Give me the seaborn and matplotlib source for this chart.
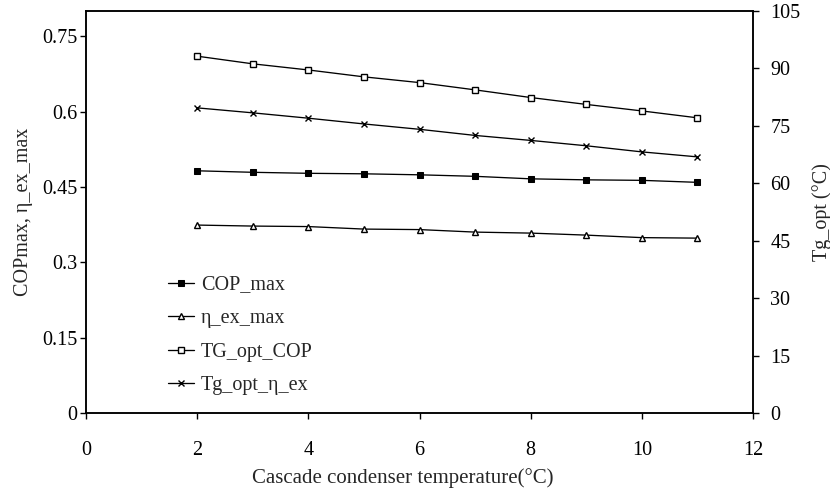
import matplotlib
matplotlib.use("Agg")
import matplotlib.pyplot as plt
import seaborn as sns
import pandas as pd

# Cascade condenser temperature (°C)
t_cascade = [2, 3, 4, 5, 6, 7, 8, 9, 10, 11]

# Left axis series
cop_max = [0.482, 0.479, 0.477, 0.476, 0.474, 0.471, 0.466, 0.464, 0.463, 0.459]
eta_ex_max = [0.374, 0.372, 0.371, 0.366, 0.365, 0.360, 0.358, 0.354, 0.349, 0.348]

# Right axis series (°C)
tg_opt_cop = [93.2, 91.2, 89.6, 87.8, 86.3, 84.4, 82.4, 80.6, 78.9, 77.1]
tg_opt_eta = [79.7, 78.4, 77.0, 75.5, 74.1, 72.5, 71.2, 69.8, 68.2, 66.9]

left_ticks = [0, 0.15, 0.3, 0.45, 0.6, 0.75]
left_tick_labels = ["0", "0.15", "0.3", "0.45", "0.6", "0.75"]
right_ticks = [0, 15, 30, 45, 60, 75, 90, 105]
x_ticks = [0, 2, 4, 6, 8, 10, 12]

sns.set_theme(style="white")
plt.rcParams["font.family"] = ["Liberation Serif", "DejaVu Serif"]
plt.rcParams["axes.edgecolor"] = "black"

FS = 14.5

df = pd.DataFrame({
    "T": t_cascade,
    "COP_max": cop_max,
    "eta_ex_max": eta_ex_max,
    "TG_opt_COP": tg_opt_cop,
    "Tg_opt_eta_ex": tg_opt_eta,
})

fig = plt.figure(figsize=(8.3, 4.9), dpi=100)
ax = fig.add_axes([86 / 830, 1 - 413 / 490, 667 / 830, 402 / 490])
ax2 = ax.twinx()

lw = 0.95
sns.lineplot(data=df, x="T", y="COP_max", ax=ax, color="black", linewidth=lw,
             marker="s", markersize=5, markerfacecolor="black",
             markeredgecolor="black", label="COP_max", legend=False)
sns.lineplot(data=df, x="T", y="eta_ex_max", ax=ax, color="black", linewidth=lw,
             marker="^", markersize=5, markerfacecolor="white",
             markeredgecolor="black", markeredgewidth=1.0,
             label="η_ex_max", legend=False)
sns.lineplot(data=df, x="T", y="TG_opt_COP", ax=ax2, color="black", linewidth=lw,
             marker="s", markersize=4, markerfacecolor="white",
             markeredgecolor="black", markeredgewidth=1.0,
             label="TG_opt_COP", legend=False)
sns.lineplot(data=df, x="T", y="Tg_opt_eta_ex", ax=ax2, color="black", linewidth=lw,
             marker="x", markersize=4.5, markeredgecolor="black",
             markeredgewidth=1.0, label="Tg_opt_η_ex", legend=False)

ax.set_xlim(0, 12)
ax.set_ylim(0, 0.8)
ax2.set_ylim(0, 105)
ax.set_xticks(x_ticks)
ax.set_yticks(left_ticks)
ax.set_yticklabels(left_tick_labels)
ax2.set_yticks(right_ticks)

for a in (ax, ax2):
    for s in a.spines.values():
        s.set_linewidth(1.1)
        s.set_color("black")
    a.grid(False)

ax.tick_params(axis="x", direction="out", length=4, width=1.0, pad=16,
               labelsize=FS, colors="black", bottom=True)
ax.tick_params(axis="y", direction="out", length=4, width=1.0, pad=2,
               labelsize=FS, colors="black", left=True)
ax2.tick_params(axis="y", direction="out", length=4.5, width=1.0, pad=8,
                labelsize=FS, colors="black", right=True)

ax.set_xlabel("Cascade condenser temperature(°C)", fontsize=15, labelpad=6,
              x=0.475)
ax.set_ylabel("COPmax, η_ex_max", fontsize=FS, labelpad=7)
ax2.set_ylabel("Tg_opt (°C)", fontsize=FS, labelpad=8)

h1, l1 = ax.get_legend_handles_labels()
h2, l2 = ax2.get_legend_handles_labels()
ax.legend(h1 + h2, l1 + l2, loc="center left",
          bbox_to_anchor=(0.1075, 0.193), frameon=False, fontsize=FS,
          borderpad=0, handlelength=1.3, handletextpad=0.35,
          labelspacing=0.72)

fig.savefig("out.png", dpi=100)
